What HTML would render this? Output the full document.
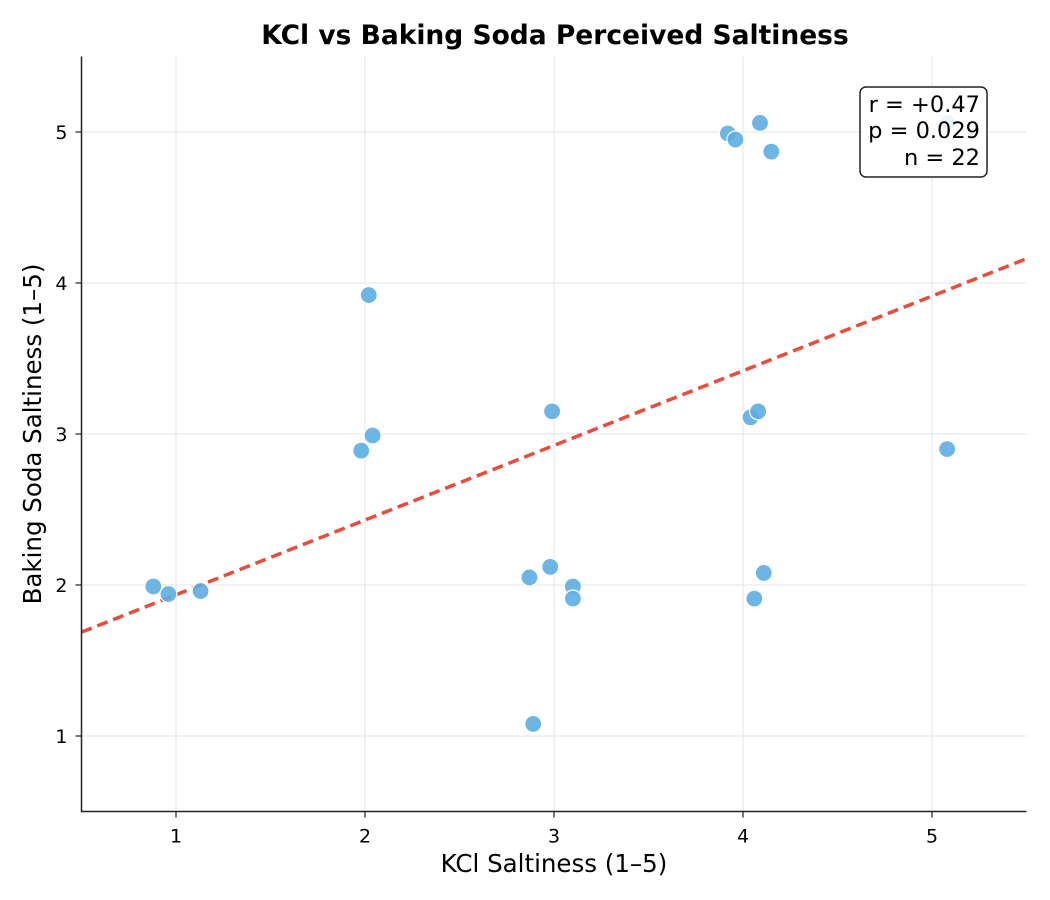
<!DOCTYPE html>
<html><head><meta charset="utf-8"><style>
body{margin:0;background:#fff;}
svg{display:block;font-family:"DejaVu Sans","Liberation Sans",sans-serif;}
</style></head><body>
<svg id="chart" width="1050" height="900">
<rect width="1050" height="900" fill="#fff"/>
<g id="grid"></g>
<g id="trend"></g>
<g id="points"></g>
<g id="axes"></g>
<text x="555" y="44" text-anchor="middle" font-size="26.5" font-weight="bold">KCl vs Baking Soda Perceived Saltiness</text>
<text x="554" y="872" text-anchor="middle" font-size="24.5">KCl Saltiness (1–5)</text>
<text transform="translate(41,434) rotate(-90)" text-anchor="middle" font-size="24.5">Baking Soda Saltiness (1–5)</text>
<g>
<rect x="860" y="87" width="127" height="90" rx="6" fill="#fff" fill-opacity="0.85" stroke="#222" stroke-width="1.5"/>
<text x="980" y="112" text-anchor="end" font-size="22.5">r = +0.47</text>
<text x="980" y="138" text-anchor="end" font-size="22.5">p = 0.029</text>
<text x="980" y="165" text-anchor="end" font-size="22.5">n = 22</text>
</g>
</svg>
<script>
const kcl=[0.88,0.96,1.13,1.98,2.04,2.02,2.87,2.98,2.89,3.10,3.10,2.99,3.92,3.96,4.09,4.15,4.04,4.08,4.06,4.11,5.08,5.08];
const soda=[1.99,1.94,1.96,2.89,2.99,3.92,2.05,2.12,1.08,1.99,1.91,3.15,4.99,4.95,5.06,4.87,3.11,3.15,1.91,2.08,2.90,5.06];
const xTicks=[1,2,3,4,5];
const yTicks=[1,2,3,4,5];
const NS='http://www.w3.org/2000/svg';
const X0=81.5,X1=1026.5,Y0=811.5,Y1=56.5;
const xs=v=>X0+(v-0.5)/5*(X1-X0);
const ys=v=>Y0-(v-0.5)/5*(Y0-Y1);
function mk(t,a,p){const e=document.createElementNS(NS,t);for(const k in a)e.setAttribute(k,a[k]);p.appendChild(e);return e;}
const grid=document.getElementById('grid'),axes=document.getElementById('axes');
xTicks.forEach(t=>{
const g=mk('line',{x1:xs(t),x2:xs(t),y1:Y1,y2:Y0,stroke:'#e6e6e6','stroke-width':1},grid);


mk('line',{x1:xs(t),x2:xs(t),y1:Y0,y2:Y0+6,stroke:'#222','stroke-width':1.2},axes);
const l=mk('text',{x:xs(t),y:Y0+31,'text-anchor':'middle','font-size':19},axes);l.textContent=t;


});
yTicks.forEach(t=>{
const g=mk('line',{x1:X0,x2:X1,y1:ys(t),y2:ys(t),stroke:'#e6e6e6','stroke-width':1},grid);


mk('line',{x1:X0-6,x2:X0,y1:ys(t),y2:ys(t),stroke:'#222','stroke-width':1.2},axes);
const l=mk('text',{x:X0-14,y:ys(t)+7,'text-anchor':'end','font-size':19},axes);l.textContent=t;


});
const ax=mk('path',{d:`M${X0},${Y1}V${Y0}H${X1}`,fill:'none',stroke:'#222','stroke-width':1.5},axes);


const n=kcl.length,mx=kcl.reduce((a,b)=>a+b)/n,my=soda.reduce((a,b)=>a+b)/n;
let sxy=0,sxx=0;for(let i=0;i<n;i++){sxy+=(kcl[i]-mx)*(soda[i]-my);sxx+=(kcl[i]-mx)**2;}
const b=sxy/sxx,a=my-b*mx;
const tl=mk('line',{x1:xs(0.5),y1:ys(a+b*0.5),x2:xs(5.5),y2:ys(a+b*5.5),stroke:'#e74c3c','stroke-width':3.5,'stroke-dasharray':'11 6'},document.getElementById('trend'));


const pts=document.getElementById('points');
kcl.forEach((v,i)=>{
const c=mk('circle',{cx:xs(v),cy:ys(soda[i]),r:8.5,fill:'#5dade2','fill-opacity':0.9,stroke:'#fff','stroke-width':1.2},pts);


});
</script>
</body></html>
